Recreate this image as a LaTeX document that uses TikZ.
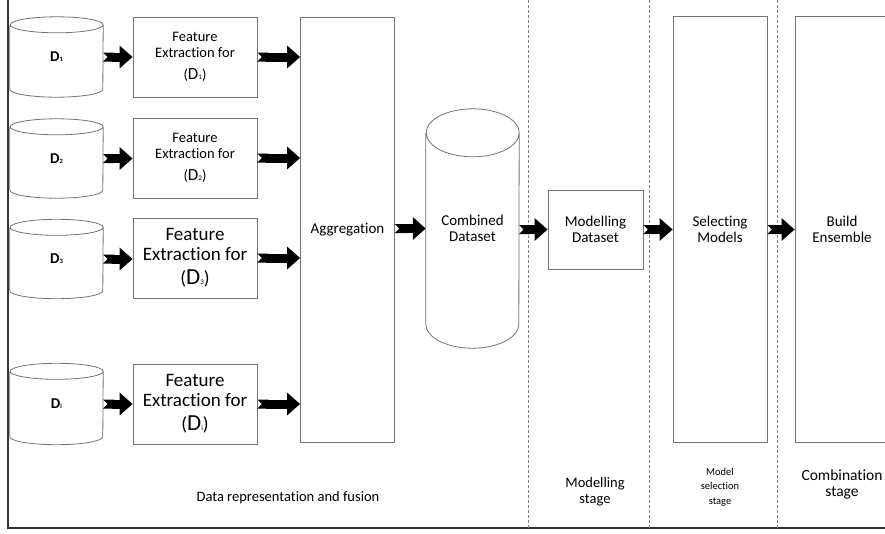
\documentclass[tikz,border=0pt]{standalone}
\usepackage{fontspec}
\setmainfont{Carlito}[RawFeature={-liga}]
\usetikzlibrary{arrows.meta,calc}
\newcommand\cylo[3]{\draw[cylline] ([yshift=-#3pt]#1.north west) -- ([yshift=#3pt]#1.south west) arc[start angle=180,end angle=360,x radius=#2pt,y radius=#3pt] -- ([yshift=-#3pt]#1.north east) arc[start angle=0,end angle=360,x radius=#2pt,y radius=#3pt];}
\newcommand\fsz[1]{\fontsize{#1}{#1}\selectfont}
\newcommand\pd[3]{{\fsz{#1}(}{\fsz{#2}D}{\fsz{7}#3}{\fsz{#1})}}
\begin{document}
\begin{tikzpicture}[x=1pt,y=-1pt,
  cylline/.style={draw=black!55, line width=0.8pt},
  box/.style={draw=black!55, line width=0.8pt, fill=white, rectangle, inner sep=0pt, align=center, text=black},
  cylnode/.style={rectangle, draw=none, inner sep=0pt, minimum width=93pt, align=center, text=black},
  fesmall/.style={box, minimum width=124pt, minimum height=80pt, font=\fontsize{14.5}{16}\selectfont},
  febig/.style={box, minimum width=124pt, minimum height=80pt, font=\fontsize{19}{20}\selectfont},
  midtxt/.style={font=\fontsize{15}{16}\selectfont},
  lbl/.style={align=center, text=black, font=\fontsize{14.5}{16}\selectfont},
  blk/.style={line width=9pt, black, {Triangle Cap[reversed]}-{Triangle[length=13pt,width=22pt]}},
  stageline/.style={draw=black!50, line width=0.7pt, dash pattern=on 3pt off 2pt},
  frameline/.style={line width=1.2pt, draw=black!80}]
\useasboundingbox (0,0) rectangle (885,533);
\clip (0,0) rectangle (885,533);

% frame
\draw[frameline] (8,0) -- (8,528) -- (885,528);
% stage separators
\draw[stageline] (528,0) -- (528,528);
\draw[stageline] (649,0) -- (649,528);
\draw[stageline] (777,0) -- (777,528);

% source datasets
\node[cylnode, minimum height=80pt] (c1) at (56.5,57) {\fsz{15}\textbf{D}{\fsz{6.5}\textbf{1}}};
\node[cylnode, minimum height=79pt] (c2) at (56.5,158.5) {\fsz{15}\textbf{D}{\fsz{6.5}\textbf{2}}};
\node[cylnode, minimum height=79pt] (c3) at (56.5,259) {\fsz{15}\textbf{D}{\fsz{6.5}\textbf{3}}};
\node[cylnode, minimum height=81pt] (ci) at (56.5,404) {\fsz{15}\textbf{D}{\fsz{6.5}\textbf{i}}};
\cylo{c1}{46.5}{8}
\cylo{c2}{46.5}{8}
\cylo{c3}{46.5}{8}
\cylo{ci}{46.5}{8}

% feature extraction
\node[fesmall] (f1) at (195,57) {Feature\\Extraction for\\[6pt]\pd{14.5}{17}{1}};
\node[fesmall] (f2) at (195,158) {Feature\\Extraction for\\[6pt]\pd{14.5}{17}{2}};
\node[febig] (f3) at (195,258) {Feature\\Extraction for\\[4pt]\pd{19}{23}{3}};
\node[febig] (fi) at (195,404) {Feature\\Extraction for\\[4pt]\pd{19}{23}{i}};

% aggregation and later stages
\node[box, minimum width=94pt, minimum height=425pt, midtxt] (agg) at (347.5,229.5) {Aggregation};
\node[cylnode, minimum height=239pt, midtxt] (comb) at (472.5,228.5) {Combined\\Dataset};
\cylo{comb}{46.5}{24}
\node[box, minimum width=95pt, minimum height=79pt, midtxt] (mod) at (595.5,229.5) {Modelling\\Dataset};
\node[box, minimum width=94pt, minimum height=426pt, midtxt] (sel) at (720,229) {Selecting\\Models};
\node[box, minimum width=94pt, minimum height=426pt, midtxt] (ens) at (842,229) {Build\\Ensemble};

% arrows
\foreach \a/\b in {c1/f1,c2/f2,c3/f3,ci/fi,f1/agg,f2/agg,f3/agg,fi/agg}
  \draw[blk] (\a.east) -- (\a.east -| \b.west);
\draw[blk] (agg.east |- comb) -- (comb.west);
\draw[blk] (comb.east |- mod) -- (mod.west);
\draw[blk] (mod.east) -- (mod.east -| sel.west);
\draw[blk] (sel.east |- mod) -- (ens.west |- mod);

% stage labels
\node[lbl] (l1) at (288,498) {Data representation and fusion};
\node[lbl] (l2) at (595,492) {Modelling\\stage};
\node[lbl, font=\fontsize{10.5}{14.5}\selectfont] (l3) at (720,487) {Model\\selection\\stage};
\node[lbl, font=\fontsize{15.5}{16}\selectfont] (l4) at (842,484) {Combination\\stage};
\end{tikzpicture}
\end{document}
